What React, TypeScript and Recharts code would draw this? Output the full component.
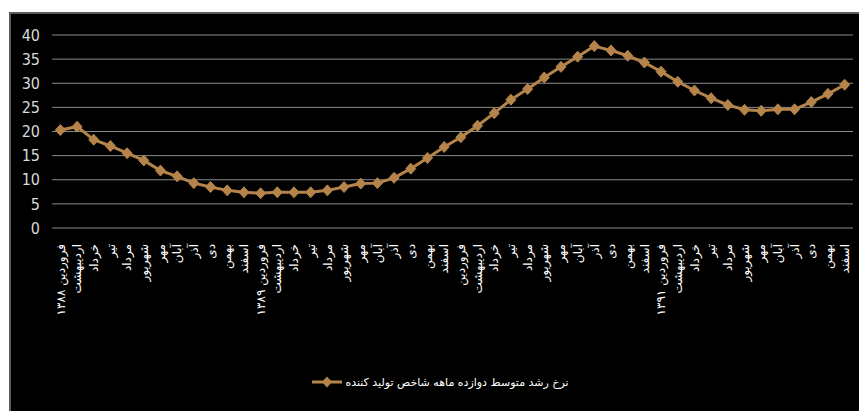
import React from 'react';
import { LineChart, Line, XAxis, YAxis, CartesianGrid, Legend } from 'recharts';

// Persian month names and the year shown under each Farvardin label
const months = ['فروردین', 'اردیبهشت', 'خرداد', 'تیر', 'مرداد', 'شهریور', 'مهر', 'آبان', 'آذر', 'دی', 'بهمن', 'اسفند'];
const years = ['۱۳۸۸', '۱۳۸۹', '', '۱۳۹۱'];

// Twelve-month average growth rate of the producer price index (%)
const growth = [
  20.3, 21.0, 18.3, 17.0, 15.5, 14.0, 11.9, 10.7, 9.3, 8.5, 7.8, 7.4,
  7.2, 7.4, 7.4, 7.4, 7.8, 8.5, 9.2, 9.3, 10.4, 12.3, 14.5, 16.8,
  18.8, 21.2, 23.8, 26.6, 28.8, 31.2, 33.4, 35.5, 37.7, 36.8, 35.7, 34.3,
  32.4, 30.3, 28.5, 26.9, 25.5, 24.5, 24.3, 24.6, 24.6, 26.1, 27.8, 29.7,
];

const yTicks = [0, 5, 10, 15, 20, 25, 30, 35, 40];
const seriesName = 'نرخ رشد متوسط دوازده ماهه شاخص تولید کننده';

const labels = years.flatMap((yr) =>
  months.map((m, i) => (i === 0 && yr ? `${m}   ${yr}` : m))
);

const data = labels.map((label, i) => ({ label, value: growth[i] }));

const GOLD = '#b5844b';

const Diamond = (props: any) => {
  const { cx, cy } = props;
  if (cx == null || cy == null) return null;
  return (
    <polygon
      points={`${cx},${cy - 5.5} ${cx + 5},${cy} ${cx},${cy + 5.5} ${cx - 5},${cy}`}
      fill={GOLD}
      stroke={GOLD}
      strokeWidth={1}
    />
  );
};

// Month names written downwards from the axis, rotated a quarter turn
const MonthTick = (props: any) => {
  const { x, y, payload } = props;
  return (
    <g transform={`translate(${x},${y + 16})`}>
      <text
        transform="rotate(-90)"
        direction="rtl"
        textAnchor="start"
        dy="0.35em"
        fill="#ffffff"
        fontSize={12}
        fontFamily="'DejaVu Sans', sans-serif"
      >
        {payload.value}
      </text>
    </g>
  );
};

const LegendContent = () => (
  <div style={{ display: 'flex', justifyContent: 'center', alignItems: 'center', paddingLeft: 16 }}>
    <svg width={32} height={14} style={{ marginRight: 2 }}>
      <line x1={1} y1={7} x2={31} y2={7} stroke={GOLD} strokeWidth={3} />
      <polygon points="16,1.5 21,7 16,12.5 11,7" fill={GOLD} />
    </svg>
    <span
      dir="rtl"
      style={{ color: '#ffffff', fontSize: 11, fontFamily: "'DejaVu Sans', sans-serif" }}
    >
      {seriesName}
    </span>
  </div>
);

export default function App() {
  return (
    <div
      style={{
        position: 'fixed',
        left: 9,
        top: 12,
        width: 850,
        height: 399,
        boxSizing: 'border-box',
        background: '#000000',
        borderTop: '2px solid #5a5a5a',
        borderLeft: '2px solid #5a5a5a',
        overflow: 'hidden',
      }}
    >
      <LineChart
        width={848}
        height={397}
        data={data}
        margin={{ top: 21, right: 6, left: 0, bottom: 16 }}
      >
        <CartesianGrid vertical={false} stroke="#8a8a8a" strokeWidth={1} />
        <XAxis
          dataKey="label"
          interval={0}
          axisLine={false}
          tickLine={false}
          tickSize={0}
          tickMargin={0}
          height={147}
          padding={{ left: 8.35, right: 8.35 }}
          tick={<MonthTick />}
        />
        <YAxis
          domain={[0, 40]}
          ticks={yTicks}
          width={41}
          axisLine={false}
          tickLine={false}
          tickSize={0}
          tickMargin={12}
          tick={{ fill: '#d9d9d9', fontSize: 16, fontFamily: "'Liberation Sans Narrow', 'DejaVu Sans Condensed', sans-serif" }}
        />
        <Legend verticalAlign="bottom" height={20} content={<LegendContent />} />
        <Line
          type="linear"
          dataKey="value"
          name={seriesName}
          stroke={GOLD}
          strokeWidth={3}
          dot={<Diamond />}
          activeDot={false}
          isAnimationActive={false}
        />
      </LineChart>
    </div>
  );
}
